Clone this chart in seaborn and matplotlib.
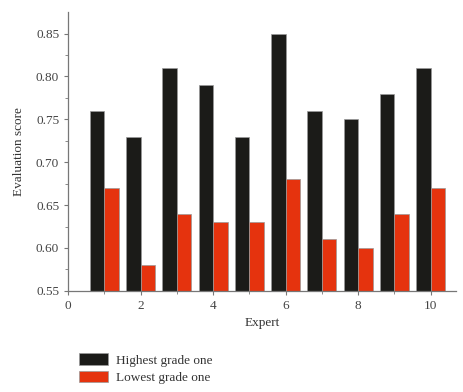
import numpy as np
import pandas as pd
import matplotlib
matplotlib.use("Agg")
import matplotlib.pyplot as plt
import seaborn as sns

experts = [1, 2, 3, 4, 5, 6, 7, 8, 9, 10]
highest = [0.76, 0.73, 0.81, 0.79, 0.73, 0.85, 0.76, 0.75, 0.78, 0.81]
lowest = [0.67, 0.58, 0.64, 0.63, 0.63, 0.68, 0.61, 0.60, 0.64, 0.67]
labels = ["Highest grade one", "Lowest grade one"]

df = pd.DataFrame({
    "Expert": experts * 2,
    "score": highest + lowest,
    "grade": [labels[0]] * len(experts) + [labels[1]] * len(experts),
})

sns.set_style("ticks")
plt.rcParams["font.family"] = ["Liberation Serif", "DejaVu Serif"]

fig = plt.figure(figsize=(4.64, 3.92), dpi=100)
ax = fig.add_axes([0.147, 0.258, 0.836, 0.711])
sns.barplot(data=df, x="Expert", y="score", hue="grade", native_scale=True,
            width=0.8, dodge=True, palette=["#1b1b18", "#e5330e"], saturation=1,
            edgecolor="#9a9a9a", linewidth=0.5, ax=ax, legend=True)

ax.set_xlim(0, 10.7)
ax.set_ylim(0.55, 0.875)
ax.set_xticks([0, 2, 4, 6, 8, 10])
ax.set_yticks([0.55, 0.60, 0.65, 0.70, 0.75, 0.80, 0.85])
ax.set_yticks(np.arange(0.575, 0.87, 0.05), minor=True)
ax.set_xticks([1, 3, 5, 7, 9], minor=True)
ax.yaxis.set_major_formatter(matplotlib.ticker.FormatStrFormatter("%.2f"))
ax.set_xlabel("Expert", fontsize=9.5, color="#333333")
ax.set_ylabel("Evaluation score", fontsize=9.5, color="#333333", labelpad=8)
ax.tick_params(axis="both", which="major", labelsize=9.5, labelcolor="#444444",
               color="#777777", length=3, width=0.8)
ax.tick_params(axis="both", which="minor", color="#777777", length=2, width=0.6)
for s in ["left", "bottom"]:
    ax.spines[s].set_color("#777777")
    ax.spines[s].set_linewidth(0.9)
sns.despine(ax=ax)

handles, lbls = ax.get_legend_handles_labels()
ax.get_legend().remove()
fig.legend(handles, lbls, loc="lower left", bbox_to_anchor=(0.145, -0.01),
           frameon=False, fontsize=9.5, handlelength=2.2, handleheight=1.0,
           labelspacing=0.3, handletextpad=0.6, labelcolor="#333333")

fig.savefig("out.png", dpi=100)
